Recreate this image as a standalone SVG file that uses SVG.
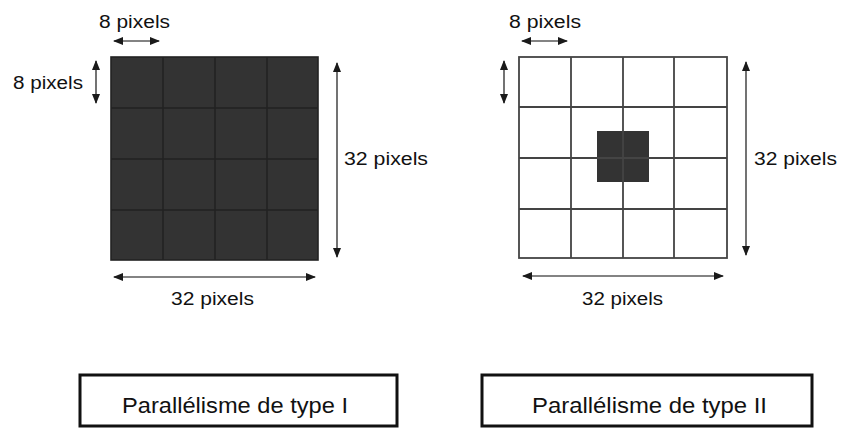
<svg xmlns="http://www.w3.org/2000/svg" width="841" height="428" viewBox="0 0 841 428">
<defs>
<marker id="ah" markerUnits="userSpaceOnUse" markerWidth="10" markerHeight="8" refX="9" refY="4" orient="auto-start-reverse">
<path d="M0,0 L10,4 L0,8 Z" fill="#1a1a1a"/>
</marker>
<style>
.lbl{font-family:"Liberation Sans",Arial,sans-serif;font-size:18px;fill:#111}
.box{fill:#fff;stroke:#111;stroke-width:3}
.btxt{font-family:"Liberation Sans",Arial,sans-serif;font-size:22px;fill:#111}
.arr{stroke:#5a5a5a;stroke-width:1.7;fill:none;marker-start:url(#ah);marker-end:url(#ah)}
.grid{stroke:#222;stroke-width:1.6;fill:none}
.gridw{stroke:#444;stroke-width:1.8;fill:none}
</style>
</defs>
<rect width="841" height="428" fill="#fff"/>
<g id="grid-type1">
<rect x="111" y="57" width="207" height="203" fill="#333"/>
<path class="grid" d="M163,57V260M215,57V260M267,57V260M111,108H318M111,159H318M111,210H318"/>
<rect x="111" y="57" width="207" height="203" class="grid"/>
</g>
<g id="grid-type2">
<rect x="597" y="131" width="52" height="51" fill="#333"/>
<path class="gridw" d="M571,57V258M623,57V258M674,57V258M519,107H727M519,158H727M519,209H727"/>
<rect x="519" y="57" width="208" height="201" class="gridw"/>
</g>
<g id="connectors">
<line class="arr" x1="114" y1="41" x2="159" y2="41"/>
<line class="arr" x1="96" y1="61" x2="96" y2="103"/>
<line class="arr" x1="337" y1="63" x2="337" y2="257"/>
<line class="arr" x1="114" y1="277" x2="315" y2="277"/>
<line class="arr" x1="522" y1="41" x2="567" y2="41"/>
<line class="arr" x1="504" y1="61" x2="504" y2="103"/>
<line class="arr" x1="746" y1="62" x2="746" y2="255"/>
<line class="arr" x1="523" y1="276" x2="723" y2="276"/>
</g>
<g id="labels">
<text class="lbl" x="99" y="28" textLength="71" lengthAdjust="spacingAndGlyphs">8 pixels</text>
<text class="lbl" x="13" y="89" textLength="70" lengthAdjust="spacingAndGlyphs">8 pixels</text>
<text class="lbl" x="344" y="165" textLength="84" lengthAdjust="spacingAndGlyphs">32 pixels</text>
<text class="lbl" x="171" y="305" textLength="83" lengthAdjust="spacingAndGlyphs">32 pixels</text>
<text class="lbl" x="509" y="28" textLength="72" lengthAdjust="spacingAndGlyphs">8 pixels</text>
<text class="lbl" x="754" y="165" textLength="83" lengthAdjust="spacingAndGlyphs">32 pixels</text>
<text class="lbl" x="582" y="305" textLength="81" lengthAdjust="spacingAndGlyphs">32 pixels</text>
</g>
<g id="box-type1">
<rect class="box" x="80" y="375" width="317" height="51"/>
<text class="btxt" x="122" y="413" textLength="226" lengthAdjust="spacingAndGlyphs">Parallélisme de type I</text>
</g>
<g id="box-type2">
<rect class="box" x="482" y="375" width="330" height="51"/>
<text class="btxt" x="532" y="413" textLength="235" lengthAdjust="spacingAndGlyphs">Parallélisme de type II</text>
</g>
</svg>
